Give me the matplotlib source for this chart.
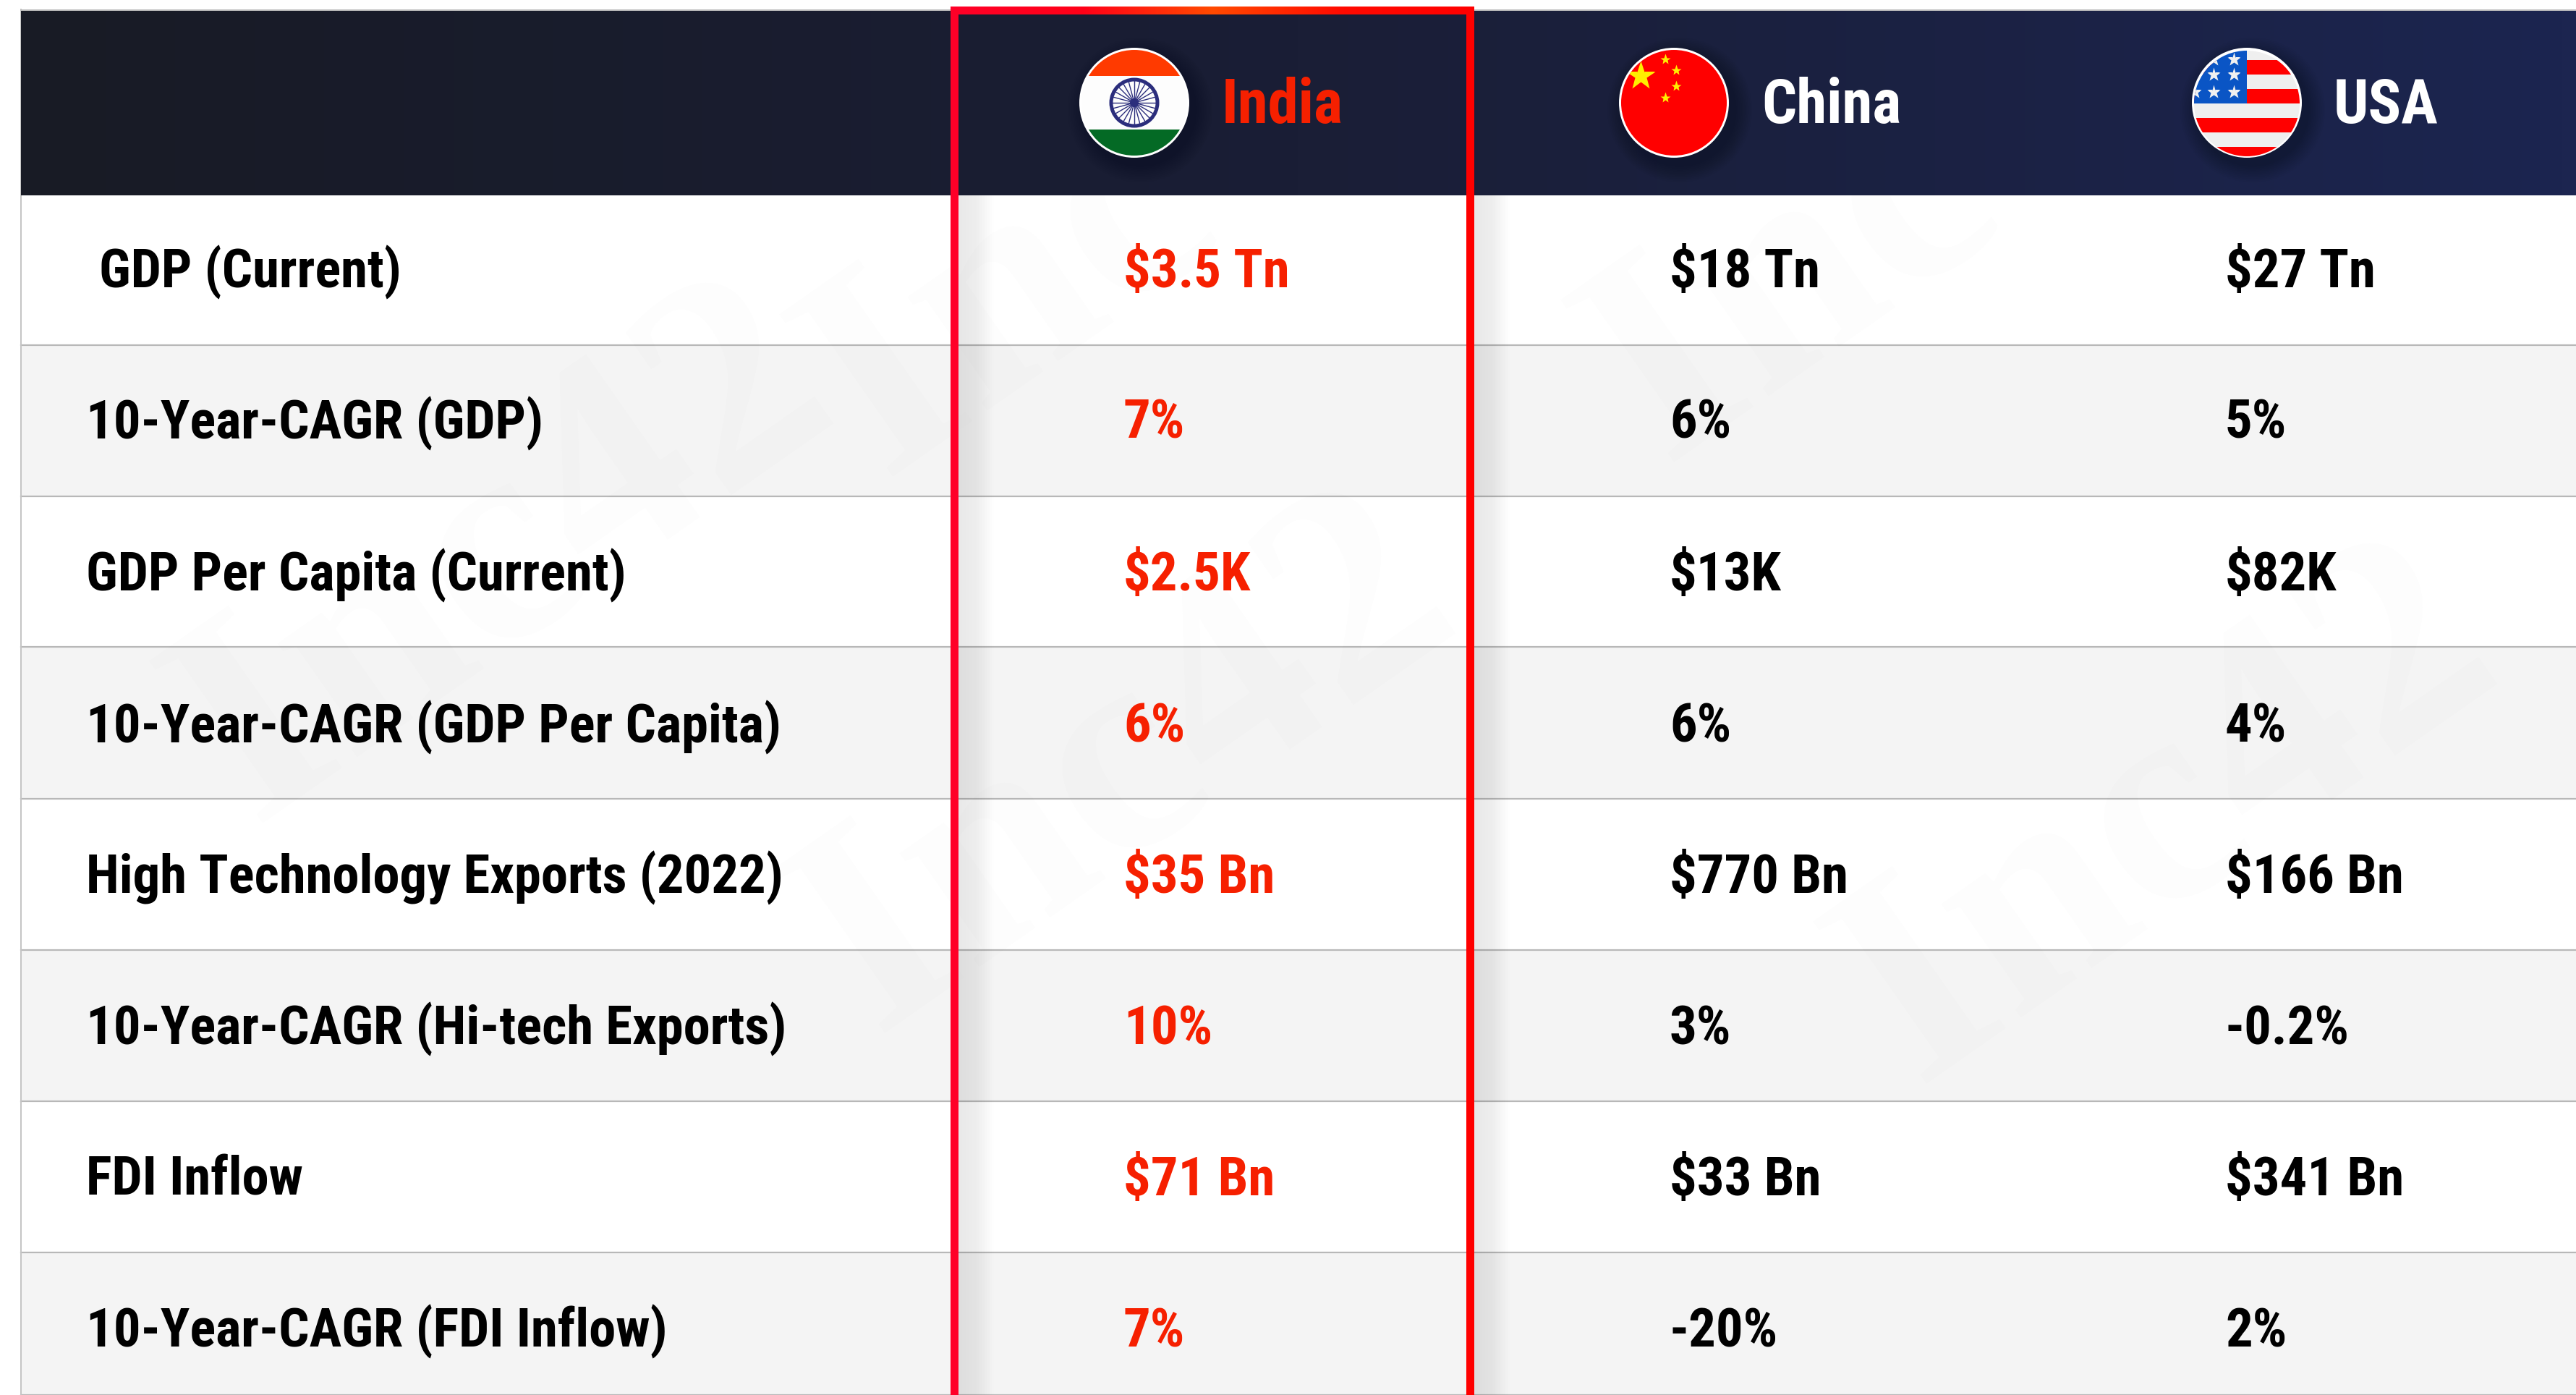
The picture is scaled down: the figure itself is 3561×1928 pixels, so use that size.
#!/usr/bin/env python3
import numpy as np
import matplotlib as mpl
mpl.use("Agg")
import matplotlib.pyplot as plt
from matplotlib.patches import Circle, Rectangle

W, H = 3562, 1928

countries = ["India", "China", "USA"]
metrics = [
    "GDP (Current)",
    "10-Year-CAGR (GDP)",
    "GDP Per Capita (Current)",
    "10-Year-CAGR (GDP Per Capita)",
    "High Technology Exports (2022)",
    "10-Year-CAGR (Hi-tech Exports)",
    "FDI Inflow",
    "10-Year-CAGR (FDI Inflow)",
]
india = ["$3.5 Tn", "7%", "$2.5K", "6%", "$35 Bn", "10%", "$71 Bn", "7%"]
china = ["$18 Tn", "6%", "$13K", "6%", "$770 Bn", "3%", "$33 Bn", "-20%"]
usa = ["$27 Tn", "5%", "$82K", "4%", "$166 Bn", "-0.2%", "$341 Bn", "2%"]

row_edges = [270, 477, 686, 894, 1104, 1313, 1522, 1731, 1928]
baselines = [397, 606, 816, 1026, 1234, 1443, 1652, 1861]
value_x = [1553, 2308, 3076]
flag_x = [1568, 2314, 3106]
name_x = [1689, 2435, 3226]

RED = "#f62000"
plt.rcParams["font.family"] = ["Roboto Condensed", "Roboto", "DejaVu Sans"]
plt.rcParams["text.parse_math"] = False

fig = plt.figure(figsize=(W / 100, H / 100), dpi=100)
ax = fig.add_axes([0, 0, 1, 1])
ax.set_xlim(0, W)
ax.set_ylim(H, 0)
ax.axis("off")


def hgrad(x0, x1, y0, y1, colors, z):
    cmap = mpl.colors.LinearSegmentedColormap.from_list("g", colors)
    ax.imshow(np.linspace(0, 1, 256)[None, :], extent=[x0, x1, y1, y0], cmap=cmap,
              aspect="auto", zorder=z, interpolation="bilinear")


# rows
for i, (a, b) in enumerate(zip(row_edges[:-1], row_edges[1:])):
    ax.add_patch(Rectangle((29, a), W - 29, b - a, fc="white" if i % 2 == 0 else "#f4f4f4", ec="none", zorder=1))
    ax.plot([29, W], [b, b], color="#b8b8b8", lw=1.6, zorder=2)
ax.plot([29.5, 29.5], [13, H], color="#c4c4c4", lw=1.4, zorder=2)

# faint watermark, only the parts that show
for word, x, y in [("Inc42", 700, 770), ("Inc42", 1560, 1060), ("Inc", 1400, 410),
                   ("Inc42", 3000, 1130), ("Inc", 2480, 390)]:
    ax.text(x, y, word, fontsize=300, rotation=35, rotation_mode="anchor", color="black", alpha=0.011,
            ha="center", va="center", fontweight="bold", zorder=3, family="Liberation Serif")

# header
hgrad(29, W, 14, 270, ["#181b25", "#1a1e36", "#1c2550"], 4)
ax.plot([29, W], [13.5, 13.5], color="#bdbdbd", lw=1.4, zorder=4)

# shadows beside the highlight box
for x0 in [1325, 2038]:
    hgrad(x0, x0 + 50, 270, H, [(0, 0, 0, 0.09), (0, 0, 0, 0.07), (0, 0, 0, 0)], 5)

# highlight box
ax.add_patch(Rectangle((1314, 9), 11, H - 9, fc="#ff0028", ec="none", zorder=8))
ax.add_patch(Rectangle((2027, 9), 11, H - 9, fc="#ff0000", ec="none", zorder=8))
hgrad(1314, 2038, 9, 20, ["#ff0028", "#ff0018", "#ff4a00", "#ff0a00", "#ff0000"], 8)

# flags
R = 76
cy = 142
r = R - 3
for cx in flag_x:
    for k in range(10):
        ax.add_patch(Circle((cx + 8, 152), R + 24 - 2.4 * k, fc="black", alpha=0.02, ec="none", zorder=5))
    ax.add_patch(Circle((cx, cy), R, fc="white", ec="none", zorder=6))

clip = Circle((flag_x[0], cy), r, transform=ax.transData)
for y0, y1, c in [(cy - r, 105, "#ff3a00"), (105, 179, "#fdfdfd"), (179, cy + r, "#046a25")]:
    p = Rectangle((flag_x[0] - r, y0), 2 * r, y1 - y0, fc=c, ec="none", zorder=7)
    ax.add_patch(p)
    p.set_clip_path(clip)
ax.add_patch(Circle((flag_x[0], cy), 32, fc="none", ec="#2b2d7c", lw=3.6, zorder=7))
ax.add_patch(Circle((flag_x[0], cy), 6, fc="#2b2d7c", ec="none", zorder=7))
for a in np.deg2rad(np.arange(0, 360, 15)):
    ax.plot([flag_x[0], flag_x[0] + 31 * np.cos(a)], [cy, cy + 31 * np.sin(a)], color="#2b2d7c", lw=1.0, zorder=7)

cx = flag_x[1]
clip = Circle((cx, cy), r, transform=ax.transData)
ax.add_patch(Circle((cx, cy), r, fc="#ff0000", ec="none", zorder=7))
big = ax.plot([cx - 46], [cy - 37], marker="*", ms=30, color="#ffef00", mec="none", zorder=8)[0]
big.set_clip_path(clip)
for dx, dy in [(-12, -60), (3, -45), (3, -23), (-12, -7)]:
    ax.plot([cx + dx], [cy + dy], marker="*", ms=11, color="#ffef00", mec="none", zorder=8)

cx = flag_x[2]
uy = 143
clip = Circle((cx, uy), r, transform=ax.transData)
bg = Rectangle((cx - r, uy - r), 2 * r, 2 * r, fc="#efefef", ec="none", zorder=7)
ax.add_patch(bg)
bg.set_clip_path(clip)
for y0, y1 in [(83, 103), (123, 143), (163, 183), (203, 223)]:
    p = Rectangle((cx - r, y0), 2 * r, y1 - y0, fc="#ff0000", ec="none", zorder=7)
    ax.add_patch(p)
    p.set_clip_path(clip)
canton = Rectangle((cx - r, uy - r), r, r, fc="#0a55c5", ec="none", zorder=7)
ax.add_patch(canton)
canton.set_clip_path(clip)
for dx in [-72, -46, -18]:
    for dy in [-61, -40, -16]:
        s = ax.plot([cx + dx], [uy + dy], marker="*", ms=14, color="#f0f0f0", mec="none", zorder=8)[0]
        s.set_clip_path(clip)

# header names
for name, x in zip(countries, name_x):
    ax.text(x, 170, name, color=RED if name == "India" else "white", fontsize=61, fontweight="bold",
            ha="left", va="baseline", zorder=9)

# rows text
for i, metric in enumerate(metrics):
    ax.text(137 if i == 0 else 119, baselines[i], metric, fontsize=53.7, fontweight="bold", color="black",
            ha="left", va="baseline", zorder=9)
    for vals, x, c in zip([india, china, usa], value_x, [RED, "black", "black"]):
        ax.text(x, baselines[i], vals[i], fontsize=53.7, fontweight="bold", color=c, ha="left", va="baseline", zorder=9)

fig.savefig("out.png", dpi=100)
